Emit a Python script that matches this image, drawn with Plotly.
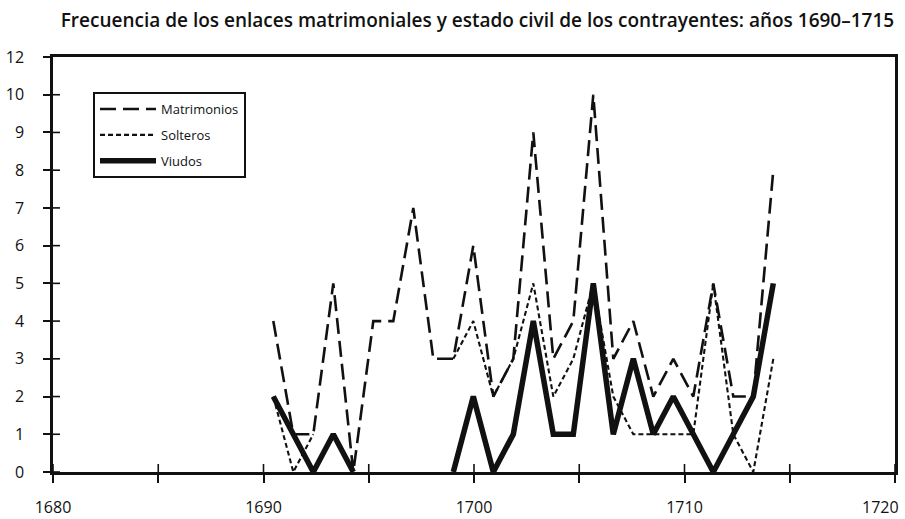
import plotly.graph_objects as go

# ---- data ----
years = [1690, 1691, 1692, 1693, 1694, 1695, 1696, 1697, 1698, 1699,
         1700, 1701, 1702, 1703, 1704, 1705, 1706, 1707, 1708, 1709,
         1710, 1711, 1712, 1713, 1714, 1715]
matrimonios = [4, 1, 1, 5, 0, 4, 4, 7, 3, 3,
               6, 2, 3, 9, 3, 4, 10, 3, 4, 2,
               3, 2, 5, 2, 2, 8]
solteros = [2, 0, 1, None, None, None, None, None, None, 3,
            4, 2, 3, 5, 2, 3, 5, 2, 1, 1,
            1, 1, 5, 1, 0, 3]
viudos = [2, 1, 0, 1, 0, None, None, None, None, 0,
          2, 0, 1, 4, 1, 1, 5, 1, 3, 1,
          2, 1, 0, 1, 2, 5]

x_tick_vals = [1680, 1685, 1690, 1695, 1700, 1705, 1710, 1715, 1720]
x_tick_text = ["1680", "", "1690", "", "1700", "", "1710", "", ""]
last_x_label = "1720"   # drawn right-aligned at the edge, as in the reference
y_tick_vals = [0, 1, 2, 3, 4, 5, 6, 7, 8, 9, 10, 11]
y_tick_text = ["0", "1", "2", "3", "4", "5", "6", "7", "8", "9", "10", "12"]

title = "Frecuencia de los enlaces matrimoniales y estado civil de los contrayentes: años 1690–1715"

FONT = "Open Sans"
INK = "#111111"
X_RANGE = [1680, 1720]
Y_RANGE = [0, 11]
PLOT_W = 905 - 53 - 10
PLOT_H = 519 - 57 - 47

fig = go.Figure()

# invisible anchor trace for the base subplot
fig.add_trace(go.Scatter(x=[X_RANGE[0]], y=[Y_RANGE[0]], xaxis="x", yaxis="y",
                         mode="markers", marker=dict(opacity=0),
                         showlegend=False, hoverinfo="skip"))

fig.add_trace(go.Scatter(
    x=years, y=matrimonios, name="Matrimonios", mode="lines",
    xaxis="x2", yaxis="y", legendgroup="m",
    line=dict(color=INK, width=2.6, dash="16px,7px"),
))
fig.add_trace(go.Scatter(
    x=years, y=solteros, name="Solteros", mode="lines",
    xaxis="x2", yaxis="y", legendgroup="s",
    line=dict(color=INK, width=2.1, dash="5px,3px"),
))
fig.add_trace(go.Scatter(
    x=years, y=viudos, name="Viudos", mode="lines",
    xaxis="x2", yaxis="y", legendgroup="v",
    line=dict(color=INK, width=5.5),
))

axis_font = dict(family=FONT, size=16, color=INK)

# inner halves of the crossing tick marks
tick_shapes = []
for v in x_tick_vals:
    tick_shapes.append(dict(type="line", xref="x", yref="y domain",
                            x0=v, x1=v, y0=0, y1=8 / PLOT_H,
                            line=dict(color=INK, width=1.6), layer="above"))
for v in y_tick_vals[:-1]:
    tick_shapes.append(dict(type="line", xref="x domain", yref="y",
                            x0=0, x1=7 / PLOT_W, y0=v, y1=v,
                            line=dict(color=INK, width=1.6), layer="above"))

fig.update_layout(
    width=905, height=519,
    margin=dict(l=53, r=10, t=57, b=47, autoexpand=False),
    paper_bgcolor="white", plot_bgcolor="white",
    font=dict(family=FONT, color=INK),
    title=dict(
        text=title, xref="container", x=0.5276, xanchor="center",
        yref="container", y=1 - 20 / 519, yanchor="middle",
        font=dict(family=FONT, size=19, color=INK, weight=600),
        automargin=False,
    ),
    xaxis=dict(
        range=X_RANGE, tickvals=x_tick_vals, ticktext=x_tick_text,
        ticks="outside", ticklen=8, tickwidth=1.5, tickcolor=INK,
        showline=True, linecolor=INK, linewidth=2.5, mirror=True,
        showgrid=False, zeroline=False, tickfont=axis_font,
        ticklabelstandoff=11, automargin=False,
    ),
    xaxis2=dict(
        range=[1678.985, 1721.085], overlaying="x", anchor="y",
        visible=False, automargin=False,
    ),
    yaxis=dict(
        range=Y_RANGE, tickvals=y_tick_vals, ticktext=y_tick_text,
        ticks="outside", ticklen=7, tickwidth=1.5, tickcolor=INK,
        showline=True, linecolor=INK, linewidth=2.5, mirror=True,
        showgrid=False, zeroline=False, tickfont=axis_font,
        ticklabelstandoff=16, automargin=False,
    ),
    shapes=tick_shapes,
    annotations=[dict(
        text=last_x_label, xref="x", x=X_RANGE[1], xanchor="right", xshift=6,
        yref="paper", y=0, yanchor="middle", yshift=-35,
        showarrow=False, font=axis_font,
    )],
    legend=dict(
        x=(93 - 53) / PLOT_W, y=(472 - 92) / PLOT_H, xanchor="left", yanchor="top",
        bgcolor="white", bordercolor=INK, borderwidth=2,
        font=dict(family=FONT, size=13, color=INK),
        tracegroupgap=6, itemwidth=56,
    ),
    showlegend=True,
)

fig.write_html("out.html",
               config={"displayModeBar": False},
               post_script="document.body.style.margin='0px';")
